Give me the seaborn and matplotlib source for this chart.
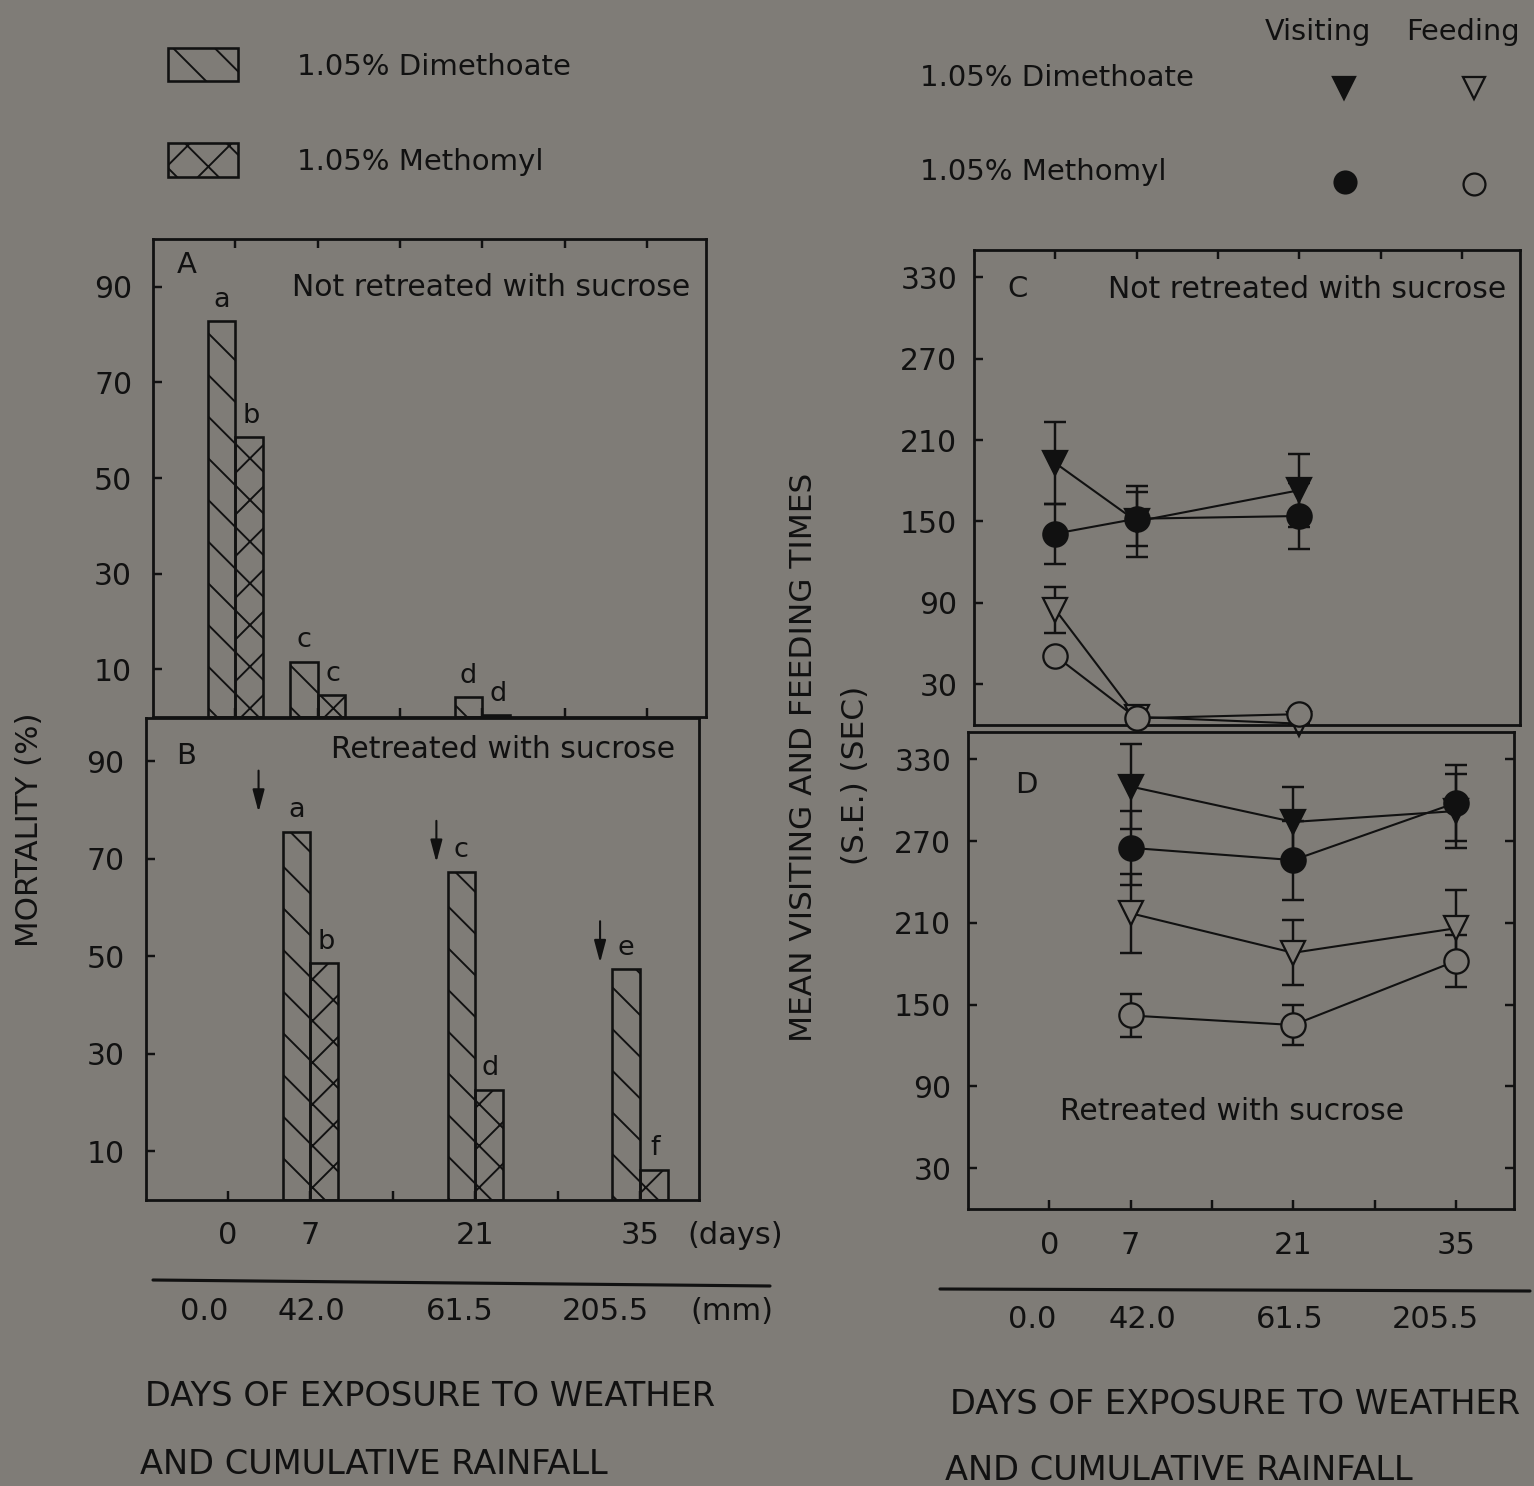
import numpy as np
import pandas as pd
import seaborn as sns
import matplotlib.pyplot as plt
from matplotlib import transforms
from matplotlib.patches import Rectangle

# values
days_A = [0, 7, 21]
dimeth_A = [82.8, 11.6, 4.2]
methomyl_A = [58.6, 4.6, 0.4]
letters_dimeth_A = ['a', 'c', 'd']
letters_methomyl_A = ['b', 'c', 'd']

days_B = [7, 21, 35]
dimeth_B = [75.5, 67.3, 47.3]
methomyl_B = [48.6, 22.6, 6.2]
letters_dimeth_B = ['a', 'c', 'e']
letters_methomyl_B = ['b', 'd', 'f']
arrow_day_B = [2.6, 17.7, 31.6]
arrow_tip_B = [79.6, 69.3, 48.7]

days_C = [0, 7, 21]
dimeth_visit_C = [193, 150, 173]
dimeth_visit_se_C = [30, 26, 27]
methomyl_visit_C = [141, 152, 154]
methomyl_visit_se_C = [22, 20, 24]
dimeth_feed_C = [85, 6, 1]
dimeth_feed_se_C = [17, 0, 0]
methomyl_feed_C = [51, 5, 8]
methomyl_feed_se_C = [0, 0, 0]

days_D = [7, 21, 35]
dimeth_visit_D = [310, 284, 292]
dimeth_visit_se_D = [31, 26, 27]
methomyl_visit_D = [265, 256, 298]
methomyl_visit_se_D = [27, 29, 28]
dimeth_feed_D = [217, 188, 206]
dimeth_feed_se_D = [29, 24, 28]
methomyl_feed_D = [142, 135, 182]
methomyl_feed_se_D = [16, 15, 19]

day_ticks = [0, 7, 21, 35]
day_labels = ['0', '7', '21', '35']
rainfall_labels = ['0.0', '42.0', '61.5', '205.5']

W, H, DPI = 1534, 1486, 250
BG = '#7f7c77'
INK = '#111111'

sns.set_theme(style='ticks')
plt.rcParams.update({
    'font.family': ['DejaVu Sans'],
    'figure.facecolor': BG,
    'savefig.facecolor': BG,
    'axes.facecolor': 'none',
    'axes.edgecolor': INK,
    'axes.linewidth': 0.8,
    'text.color': INK,
    'xtick.color': INK,
    'ytick.color': INK,
    'xtick.direction': 'in',
    'ytick.direction': 'in',
    'xtick.major.size': 2.6,
    'ytick.major.size': 2.6,
    'xtick.major.width': 0.7,
    'ytick.major.width': 0.7,
    'ytick.labelsize': 8.6,
    'hatch.linewidth': 0.55,
    'hatch.color': INK,
})

HATCH_D = '\\\\'
HATCH_M = 'xx'


def rect(l, t, r, b):
    return [l / W, 1 - b / H, (r - l) / W, (b - t) / H]


fig = plt.figure(figsize=(W / DPI, H / DPI), dpi=DPI)
axA = fig.add_axes(rect(153, 239, 706, 717))
axB = fig.add_axes(rect(145.5, 718, 699, 1200))
axC = fig.add_axes(rect(974, 250, 1520, 725))
axD = fig.add_axes(rect(968, 732, 1514, 1209))


def bars(ax, days, dimeth, methomyl, let_d, let_m):
    df = pd.DataFrame({
        'day': days + days,
        'mortality': dimeth + methomyl,
        'treatment': ['Dimethoate'] * len(days) + ['Methomyl'] * len(days),
    })
    step = float(np.min(np.diff(days)))
    sns.barplot(data=df, x='day', y='mortality', hue='treatment',
                hue_order=['Dimethoate', 'Methomyl'], native_scale=True,
                width=4.7 / step, fill=False, palette=[INK, INK],
                errorbar=None, legend=False, linewidth=0.75, ax=ax)
    for cont, hatch in zip(ax.containers, [HATCH_D, HATCH_M]):
        for bar in cont:
            bar.set_hatch(hatch)
            bar.set_edgecolor(INK)
    for d, v, s in zip(days, dimeth, let_d):
        ax.text(d - 1.2, v + 3, s, ha='center', va='baseline', fontsize=7.8)
    for d, v, s in zip(days, methomyl, let_m):
        ax.text(d + 1.3, v + 3, s, ha='center', va='baseline', fontsize=7.8)


bars(axA, days_A, dimeth_A, methomyl_A, letters_dimeth_A, letters_methomyl_A)
bars(axB, days_B, dimeth_B, methomyl_B, letters_dimeth_B, letters_methomyl_B)

for d, tip in zip(arrow_day_B, arrow_tip_B):
    axB.annotate('', xy=(d, tip), xytext=(d, tip + 8.5),
                 arrowprops=dict(arrowstyle='-|>,head_length=0.45,head_width=0.12',
                                 color=INK, lw=0.6, shrinkA=0, shrinkB=0))


def series(ax, days, vals, se, marker, filled):
    ax.errorbar(days, vals, yerr=se, fmt='none', ecolor=INK, elinewidth=0.7,
                capsize=3.2, capthick=0.7, zorder=2, clip_on=False)
    sns.lineplot(x=days, y=vals, ax=ax, color=INK, linewidth=0.6, marker=marker,
                 markersize=7, markerfacecolor=INK if filled else BG,
                 markeredgecolor=INK, markeredgewidth=0.65, zorder=3,
                 clip_on=False, errorbar=None)


series(axC, days_C, dimeth_visit_C, dimeth_visit_se_C, 'v', True)
series(axC, days_C, methomyl_visit_C, methomyl_visit_se_C, 'o', True)
series(axC, days_C, dimeth_feed_C, dimeth_feed_se_C, 'v', False)
series(axC, days_C, methomyl_feed_C, methomyl_feed_se_C, 'o', False)
series(axD, days_D, dimeth_visit_D, dimeth_visit_se_D, 'v', True)
series(axD, days_D, methomyl_visit_D, methomyl_visit_se_D, 'o', True)
series(axD, days_D, dimeth_feed_D, dimeth_feed_se_D, 'v', False)
series(axD, days_D, methomyl_feed_D, methomyl_feed_se_D, 'o', False)

for ax in (axA, axB, axC, axD):
    ax.set_xlim(-7, 40)
    ax.set_xticks(range(0, 36, 7))
    ax.tick_params(axis='x', labelbottom=False, labeltop=False)
    ax.set_xlabel('')
    ax.set_ylabel('')
    for sp in ax.spines.values():
        sp.set_visible(True)
        sp.set_linewidth(0.8)
        sp.set_color(INK)

axA.tick_params(axis='x', top=True, bottom=True)
axB.tick_params(axis='x', top=False, bottom=True)
axC.tick_params(axis='x', top=True, bottom=False)
axD.tick_params(axis='x', top=False, bottom=True)
axD.tick_params(axis='y', right=True)

axA.set_ylim(0, 100)
axB.set_ylim(0, 98.9)
for ax in (axA, axB):
    ax.set_yticks(range(10, 91, 20))
    ax.tick_params(axis='y', pad=6.0)
for ax in (axC, axD):
    ax.set_ylim(0, 350)
    ax.set_yticks(range(30, 331, 60))
    ax.tick_params(axis='y', pad=4.8)

# overlay in pixel units for keys and free text
key = fig.add_axes([0, 0, 1, 1])
key.set_xlim(0, W)
key.set_ylim(H, 0)
key.axis('off')

key.add_patch(Rectangle((168, 48), 70, 33, fill=False, hatch=HATCH_D, lw=0.75, ec=INK))
key.add_patch(Rectangle((168, 143), 70, 34, fill=False, hatch=HATCH_M, lw=0.75, ec=INK))
key.text(297, 67, '1.05% Dimethoate', va='center', fontsize=8.4)
key.text(297, 162, '1.05% Methomyl', va='center', fontsize=8.4)

key.text(1318, 32, 'Visiting', ha='center', va='center', fontsize=8.3)
key.text(1463, 32, 'Feeding', ha='center', va='center', fontsize=8.3)
key.text(920, 78, '1.05% Dimethoate', va='center', fontsize=8.4)
key.text(920, 172, '1.05% Methomyl', va='center', fontsize=8.4)
for (x, y, m, filled) in [(1344, 88, 'v', True), (1474, 88, 'v', False),
                          (1345, 182, 'o', True), (1474, 184, 'o', False)]:
    key.plot(x, y, marker=m, markersize=6.3, color=INK,
             markerfacecolor=INK if filled else 'none', markeredgewidth=0.65)

key.text(187, 265, 'A', ha='center', va='center', fontsize=8.4)
key.text(690, 287, 'Not retreated with sucrose', ha='right', va='center', fontsize=8.6)
key.text(186, 756, 'B', ha='center', va='center', fontsize=8.4)
key.text(675, 750, 'Retreated with sucrose', ha='right', va='center', fontsize=8.6)
key.text(1018, 289, 'C', ha='center', va='center', fontsize=8.4)
key.text(1506, 289, 'Not retreated with sucrose', ha='right', va='center', fontsize=8.6)
key.text(1026, 785, 'D', ha='center', va='center', fontsize=8.4)
key.text(1232, 1111, 'Retreated with sucrose', ha='center', va='center', fontsize=8.6)

key.text(30, 830, 'MORTALITY (%)', rotation=90, ha='center', va='center', fontsize=8.9)
key.text(803, 757, 'MEAN VISITING AND FEEDING TIMES', rotation=90,
         ha='center', va='center', fontsize=9.0)
key.text(855, 775, '(S.E.) (SEC)', rotation=90, ha='center', va='center', fontsize=9.0)

# day labels follow the data x scale of the lower panels
tB = transforms.blended_transform_factory(axB.transData, key.transData)
tD = transforms.blended_transform_factory(axD.transData, key.transData)
for d, s in zip(day_ticks, day_labels):
    key.text(d, 1236, s, transform=tB, ha='center', va='center', fontsize=8.8)
    key.text(d, 1245, s, transform=tD, ha='center', va='center', fontsize=8.8)
key.text(735, 1236, '(days)', ha='center', va='center', fontsize=8.8)

key.plot([153, 770], [1280, 1286], color=INK, lw=0.9)
key.plot([940, 1530], [1289, 1291], color=INK, lw=0.9)

for x, s in zip([204, 311, 460, 605], rainfall_labels):
    key.text(x, 1311, s, ha='center', va='center', fontsize=8.8)
key.text(732, 1311, '(mm)', ha='center', va='center', fontsize=8.8)
for x, s in zip([1032, 1142, 1290, 1435], rainfall_labels):
    key.text(x, 1320, s, ha='center', va='center', fontsize=8.8)

key.text(145, 1396, 'DAYS OF EXPOSURE TO WEATHER', va='center', fontsize=9.7)
key.text(140, 1465, 'AND CUMULATIVE RAINFALL', va='center', fontsize=9.7)
key.text(950, 1405, 'DAYS OF EXPOSURE TO WEATHER', va='center', fontsize=9.7)
key.text(945, 1470, 'AND CUMULATIVE RAINFALL', va='center', fontsize=9.7)

fig.savefig('out.png', dpi=DPI, facecolor=BG)
